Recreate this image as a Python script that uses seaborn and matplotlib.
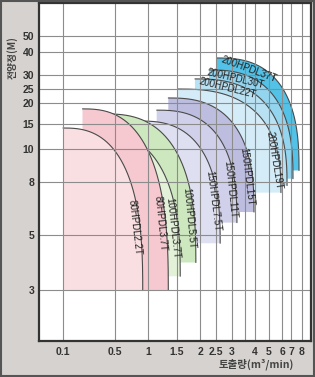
import numpy as np
import matplotlib
matplotlib.use("Agg")
import matplotlib.pyplot as plt
import seaborn as sns
import pandas as pd
from matplotlib.patches import Rectangle

# ---------------- data ----------------
models = ["80HPDL2.2T", "80HPDL3.7T", "100HPDL3.7T", "100HPDL5.5T", "150HPDL7.5T",
          "150HPDL11T", "150HPDL15T", "200HPDL19T", "200HPDL22T", "200HPDL30T", "200HPDL37T"]
q_min = [0.10, 0.25, 0.30, 0.42, 0.88, 1.15, 1.35, 1.52, 1.89, 2.28, 2.53]
q_max = [0.92, 1.35, 1.57, 1.91, 2.63, 3.19, 3.95, 5.92, 6.56, 7.18, 7.73]
h_max = [14.2, 18.6, 13.8, 17.4, 15.7, 18.3, 21.8, 25.0, 28.6, 32.2, 37.4]
h_min = [3.0, 3.0, 3.5, 4.0, 4.7, 5.7, 6.3, 7.4, 7.8, 8.2, 8.7]

x_ticks = [0.1, 0.5, 1, 1.5, 2, 2.5, 3, 4, 5, 6, 7, 8]
x_tick_labels = ["0.1", "0.5", "1", "1.5", "2", "2.5", "3", "4", "5", "6", "7", "8"]
x_extra_grid = [3.5]
y_ticks = [3, 5, 8, 10, 15, 20, 25, 30, 40, 50]
y_tick_labels = ["3", "5", "8", "10", "15", "20", "25", "30", "40", "50"]

# ---------------- styles ----------------
colors = ["#fadfe2", "#f5c9cf", "#e2f1d8", "#cde7bf", "#dedff0", "#d0d0ea",
          "#bdbde0", "#d3ecf7", "#b8e2f3", "#93d5ef", "#52c2e8"]
label_theta = [17, 16, 14, 12, 15, 12, 13, 13, 74, 76, 71]
label_offset = [5, 5, 5, 5, 5, 5, 5, 5, 6.5, 6.5, 6.5]
p_exp = 2.6

# piecewise axis scales (chart paper layout)
x_knot_val = [0, 0.1, 0.5, 1, 1.5, 2, 2.5, 3, 3.5, 4, 5, 6, 7, 8, 9]
x_knot_pos = [0, 24, 76, 109, 138, 161, 177, 193, 206, 216, 230, 243, 252, 263, 272]
y_knot_val = [2, 3, 5, 8, 10, 15, 20, 25, 30, 40, 50, 70]
y_knot_pos = [0, 51, 106, 159, 192, 217, 238, 252, 266, 289, 305, 338]


def fx(v):
    return np.interp(v, x_knot_val, x_knot_pos)


def ix(p):
    return np.interp(p, x_knot_pos, x_knot_val)


def fy(v):
    return np.interp(v, y_knot_val, y_knot_pos)


def iy(p):
    return np.interp(p, y_knot_pos, y_knot_val)


sns.set_theme(style="white")
plt.rcParams["font.family"] = ["Liberation Sans Narrow", "Liberation Sans", "DejaVu Sans"]

W, H = 315, 377
fig = plt.figure(figsize=(W / 100, H / 100), dpi=100)
fig.patch.set_facecolor("#d6d2cf")
ax = fig.add_axes([39 / W, 36 / H, 272 / W, 338 / H])
ax.set_facecolor("white")
ax.set_xscale("function", functions=(fx, ix))
ax.set_yscale("function", functions=(fy, iy))
ax.set_xlim(0, 9)
ax.set_ylim(2, 70)

e = 2.0 / p_exp
theta = np.linspace(np.pi / 2, 0, 200)

n = len(models)
for i in reversed(range(n)):
    z = 1 + (n - i) * 0.02
    X0, X1 = fx(q_min[i]), fx(q_max[i])
    Y0, Y1 = fy(h_min[i]), fy(h_max[i])
    a, b = X1 - X0, Y1 - Y0
    xs = X0 + a * np.cos(theta) ** e
    ys = Y0 + b * np.sin(theta) ** e
    px = np.concatenate([[X0], xs, [X0]])
    py = np.concatenate([[Y0], ys, [Y0]])
    ax.fill(ix(px), iy(py), color=colors[i], zorder=z, lw=0)
    arc = pd.DataFrame({"q": ix(xs), "h": iy(ys)})
    sns.lineplot(data=arc, x="q", y="h", sort=False, estimator=None,
                 color="#4a4a4a", lw=0.8, ax=ax, zorder=z + 0.01)

    # label along the arc
    t = np.deg2rad(label_theta[i])
    dt = 1e-3
    pt = np.array([X0 + a * np.cos(t) ** e, Y0 + b * np.sin(t) ** e])
    p2 = np.array([X0 + a * np.cos(t - dt) ** e, Y0 + b * np.sin(t - dt) ** e])
    p1 = np.array([X0 + a * np.cos(t + dt) ** e, Y0 + b * np.sin(t + dt) ** e])
    tv = p2 - p1
    tv = tv / np.hypot(*tv)
    nv = np.array([tv[1], -tv[0]])
    c = pt + label_offset[i] * nv
    rot = np.degrees(np.arctan2(tv[1], tv[0]))
    ax.text(ix(c[0]), iy(c[1]), models[i], rotation=rot, rotation_mode="anchor",
            ha="center", va="center", fontsize=7, color="#222222", zorder=4)

ax.set_xticks(x_ticks)
ax.set_xticklabels(x_tick_labels)
ax.set_xticks(x_extra_grid, minor=True)
ax.set_yticks(y_ticks)
ax.set_yticklabels(y_tick_labels)
ax.set_yticks([], minor=True)
ax.set_axisbelow(False)
ax.grid(True, which="both", color="#8c8c8c", lw=0.8, zorder=2.5)
ax.tick_params(axis="both", which="both", length=0, labelsize=7.5, colors="#333333")
ax.tick_params(axis="x", pad=4)
ax.tick_params(axis="y", pad=3.5)
for lab in ax.get_xticklabels() + ax.get_yticklabels():
    lab.set_fontweight("bold")
ax.set_xlabel("")
ax.set_ylabel("")
for s in ax.spines.values():
    s.set_visible(True)
    s.set_color("#333333")
    s.set_linewidth(1.6)
    s.set_zorder(5)

cjk = ["Noto Sans CJK KR", "DejaVu Sans"]
fig.text(12 / W, 1 - 58 / H, "전양정(M)", rotation=90, ha="center", va="center",
         fontsize=7, color="#444444", family=cjk, fontweight="bold")
fig.text(256 / W, 1 - 364 / H, "토출량(m³/min)", ha="center", va="center",
         fontsize=7.5, color="#444444", family=cjk, fontweight="bold")

fig.patches.append(Rectangle((0.002, 0.002), 0.996, 0.996, transform=fig.transFigure,
                             fill=False, edgecolor="#555555", lw=1.5))

fig.savefig("out.png", dpi=100, facecolor=fig.get_facecolor())
